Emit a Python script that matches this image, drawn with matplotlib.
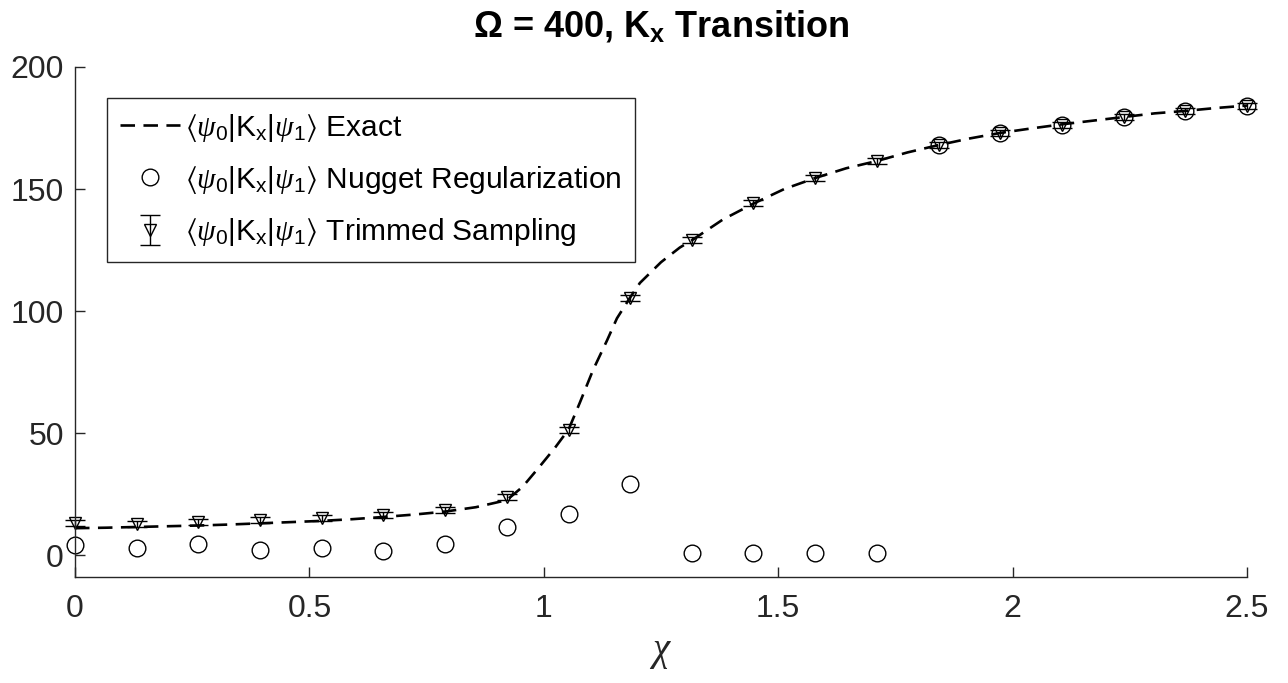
import matplotlib
matplotlib.use("Agg")
import matplotlib.pyplot as plt

plt.rcParams['font.family'] = ['Liberation Sans', 'DejaVu Sans']
plt.rcParams['mathtext.fontset'] = 'custom'
plt.rcParams['mathtext.rm'] = 'Liberation Sans'
plt.rcParams['mathtext.it'] = 'Liberation Serif:italic'
plt.rcParams['mathtext.bf'] = 'Liberation Sans:bold'
plt.rcParams['mathtext.fallback'] = 'stix'

# sample points in chi
chi = [0, 0.132, 0.263, 0.395, 0.526, 0.658, 0.789, 0.921, 1.053, 1.184,
       1.316, 1.447, 1.579, 1.711, 1.842, 1.974, 2.105, 2.237, 2.368, 2.5]

# trimmed sampling estimate and its (small) error
trimmed = [13.1, 12.7, 13.5, 14.3, 15.2, 16.4, 18.4, 23.8, 51.2, 105.3,
           129.1, 144.3, 154.5, 161.5, 168.0, 173.0, 176.2, 179.5, 182.0, 184.0]
trimmed_err = [1.2] * 20

# nugget regularization estimate
nugget = [4.1, 2.9, 4.5, 2.0, 2.9, 1.6, 4.5, 11.5, 16.8, 29.1,
          0.8, 0.8, 0.8, 0.8, 168.0, 173.0, 176.2, 179.5, 182.0, 184.0]

# exact curve (finer grid)
exact_chi = [0, 0.066, 0.132, 0.197, 0.263, 0.329, 0.395, 0.461, 0.526, 0.592,
             0.658, 0.724, 0.789, 0.855, 0.921, 0.955, 0.99, 1.024, 1.053, 1.077,
             1.105, 1.135, 1.156, 1.184, 1.205, 1.25, 1.29, 1.316, 1.382, 1.447,
             1.513, 1.579, 1.645, 1.711, 1.776, 1.842, 1.908, 1.974, 2.039, 2.105,
             2.171, 2.237, 2.303, 2.368, 2.434, 2.5]
exact = [11.0, 11.2, 11.5, 11.8, 12.1, 12.5, 13.0, 13.5, 14.0, 14.7,
         15.6, 16.6, 17.8, 19.6, 22.5, 28.0, 36.0, 44.0, 51.5, 62.5,
         75.8, 88.0, 97.0, 105.5, 111.5, 120.0, 126.0, 129.0, 137.5, 144.0,
         150.0, 154.5, 158.5, 161.5, 165.0, 168.0, 170.7, 173.0, 174.8, 176.5,
         178.0, 179.5, 181.0, 182.0, 183.2, 184.2]

lab = r'$\langle\psi_0|\mathrm{K}_\mathrm{x}|\psi_1\rangle$'
dark = '#262626'

fig = plt.figure(figsize=(12.88, 6.83), dpi=100)
ax = fig.add_axes([75 / 1288, 106 / 683, 1172 / 1288, 510 / 683])

ax.plot(exact_chi, exact, color='black', lw=1.9, dashes=(5.5, 3.2),
        label=lab + ' Exact')
ax.plot(chi, nugget, 'o', ms=12, mfc='none', mec='black', mew=1.0,
        clip_on=False, label=lab + ' Nugget Regularization')
ax.errorbar(chi, trimmed, yerr=trimmed_err, fmt='v', ms=9, mfc='none',
            mec='black', mew=1.0, ecolor='black', elinewidth=1.0, capsize=7,
            clip_on=False, label=lab + ' Trimmed Sampling')

ax.set_xlim(0, 2.5)
ax.set_ylim(-9, 200)
ax.set_xticks([0, 0.5, 1, 1.5, 2, 2.5])
ax.set_xticklabels(['0', '0.5', '1', '1.5', '2', '2.5'])
ax.set_yticks([0, 50, 100, 150, 200])

for s in ['top', 'right']:
    ax.spines[s].set_visible(False)
for s in ['left', 'bottom']:
    ax.spines[s].set_color(dark)
    ax.spines[s].set_linewidth(1.0)
ax.tick_params(direction='in', length=7, width=1.0, colors=dark,
               labelsize=23)
ax.tick_params(axis='x', pad=12)
ax.tick_params(axis='y', pad=8)

ax.set_xlabel(r'$\chi$', fontsize=28, color=dark, labelpad=8)
ax.set_title('Ω = 400, K$_\\mathbf{x}$ Transition', fontsize=26,
             fontweight='bold', pad=22)

leg = ax.legend(loc='upper left', bbox_to_anchor=(0.0273, 0.939),
                borderaxespad=0, fontsize=21.5, handlelength=2.0,
                handletextpad=0.15, borderpad=0.45, labelspacing=0.68,
                fancybox=False, framealpha=1)
leg.get_frame().set_edgecolor(dark)
leg.get_frame().set_linewidth(1.0)

fig.savefig('out.png', dpi=100)
